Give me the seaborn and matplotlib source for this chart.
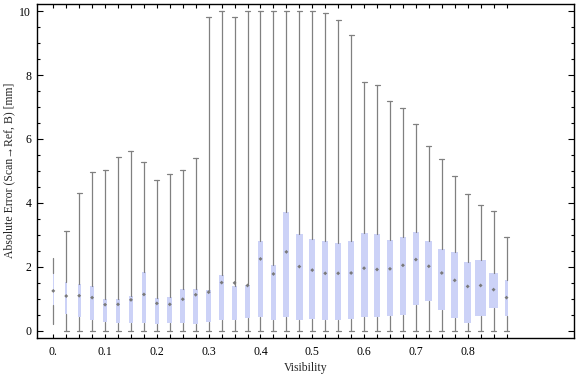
import numpy as np
import matplotlib
matplotlib.use("Agg")
import matplotlib.pyplot as plt
import seaborn as sns
import pandas as pd

# Visibility bins and box statistics
visibility = [round(0.025 * i, 3) for i in range(36)]
whis_lo = [0.21] + [0.0] * 35
q1 = [0.81, 0.54, 0.42, 0.34, 0.29, 0.24, 0.26, 0.26, 0.23, 0.26, 0.26, 0.23,
      0.29, 0.34, 0.34, 0.39, 0.42, 0.34, 0.42, 0.34, 0.37, 0.34, 0.34, 0.37,
      0.42, 0.42, 0.45, 0.51, 0.82, 0.92, 0.64, 0.39, 0.26, 0.48, 0.70, 0.48]
median = [1.25, 1.09, 1.10, 1.04, 0.82, 0.83, 0.97, 1.14, 0.86, 0.83, 0.99, 1.13,
          1.21, 1.51, 1.50, 1.42, 2.25, 1.78, 2.47, 2.01, 1.90, 1.80, 1.80, 1.81,
          1.96, 1.92, 1.94, 2.05, 2.23, 2.02, 1.81, 1.58, 1.39, 1.42, 1.29, 1.04]
q3 = [1.82, 1.54, 1.46, 1.41, 1.00, 1.00, 1.10, 1.84, 1.03, 1.07, 1.32, 1.32,
      1.29, 1.76, 1.41, 1.44, 2.82, 2.07, 3.73, 3.04, 2.88, 2.82, 2.76, 2.82,
      3.07, 3.04, 2.85, 2.92, 3.10, 2.82, 2.57, 2.48, 2.16, 2.23, 1.82, 1.59]
whis_hi = [2.27, 3.13, 4.32, 4.97, 5.04, 5.45, 5.63, 5.29, 4.72, 4.91, 5.04, 5.42,
           9.81, 10.0, 9.81, 10.0, 10.0, 10.0, 10.0, 10.0, 10.0, 9.93, 9.71, 9.25,
           7.77, 7.70, 7.18, 6.98, 6.48, 5.77, 5.38, 4.85, 4.28, 3.94, 3.75, 2.95]
# relative box weight (box width in the chart varies with it)
weight = [1.0, 2.3, 3.0, 3.3, 3.3, 3.3, 3.3, 4.7, 4.7, 4.7, 4.7, 4.7,
          4.5, 5.3, 5.7, 5.0, 5.0, 5.0, 6.0, 7.0, 6.0, 6.0, 6.0, 6.0,
          7.0, 6.0, 6.0, 6.0, 6.3, 7.0, 7.0, 7.0, 7.0, 11.0, 9.0, 2.3]
xtick_labels = ["0.", "0.1", "0.2", "0.3", "0.4", "0.5", "0.6", "0.7", "0.8"]

df = pd.DataFrame({"Visibility": visibility, "lo": whis_lo, "q1": q1,
                   "med": median, "q3": q3, "hi": whis_hi, "w": weight})

sns.set_style("ticks")
plt.rcParams["font.family"] = ["Liberation Serif", "DejaVu Serif"]
plt.rcParams["font.size"] = 8.5

fig = plt.figure(figsize=(5.76, 3.77), dpi=100)
ax = fig.add_axes([0.0639, 0.1045, 0.9331, 0.8849])

px = 1 / 518.0  # data units per pixel on x
stats = [dict(med=r.med, q1=r.q1, q3=r.q3, whislo=r.lo, whishi=r.hi, fliers=[])
         for r in df.itertuples()]
capw = [0.0] + [5 * px] * 35
ax.bxp(stats, positions=df["Visibility"], widths=df["w"] * px,
       capwidths=capw, patch_artist=True, showfliers=False,
       boxprops=dict(facecolor="#ccd2f7", edgecolor="none", linewidth=0),
       whiskerprops=dict(color="#808080", linewidth=0.9),
       capprops=dict(color="#808080", linewidth=0.9),
       medianprops=dict(linewidth=0), manage_ticks=False)

sns.scatterplot(data=df, x="Visibility", y="med", marker="D", s=4,
                color="#7a7a7a", edgecolor="none", zorder=5, ax=ax)

ax.set_xlim(-0.0318, 1.0058)
ax.set_ylim(-0.21, 10.22)

ax.set_xticks(visibility)
ax.set_xticklabels([xtick_labels[i // 4] if i % 4 == 0 and i // 4 < len(xtick_labels) else ""
                    for i in range(len(visibility))])
ax.set_yticks([0, 2, 4, 6, 8, 10])
ax.set_yticks(np.arange(0, 10.01, 0.5), minor=True)
ax.tick_params(axis="both", which="both", direction="in", top=True, right=True,
               width=0.8, colors="black")
ax.tick_params(axis="x", which="major", length=3, pad=6)
ax.tick_params(axis="y", which="major", length=4, pad=4)
ax.tick_params(axis="y", which="minor", length=2.2)
for s in ax.spines.values():
    s.set_linewidth(1.0)
    s.set_color("black")

ax.set_xlabel("Visibility", labelpad=3)
ax.set_ylabel("Absolute Error (Scan\u2192Ref, B) [mm]", labelpad=3)

fig.savefig("out.png", dpi=100)
